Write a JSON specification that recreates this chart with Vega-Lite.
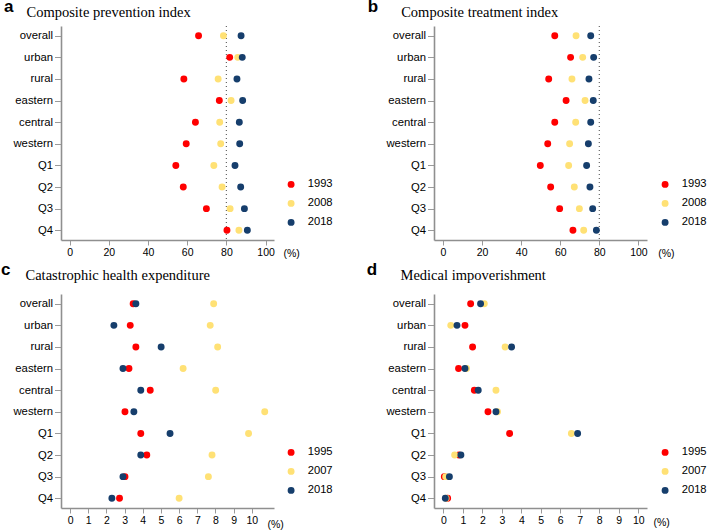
{
  "$schema": "https://vega.github.io/schema/vega-lite/v6.json",
  "background": "white",
  "padding": {"left": 1, "top": -2, "right": 0, "bottom": 0},
  "datasets": {
    "a": [
      {"group": "overall", "year": "1993", "value": 65.8},
      {"group": "urban", "year": "1993", "value": 81.7},
      {"group": "rural", "year": "1993", "value": 58.3},
      {"group": "eastern", "year": "1993", "value": 76.4},
      {"group": "central", "year": "1993", "value": 64.2},
      {"group": "western", "year": "1993", "value": 59.5},
      {"group": "Q1", "year": "1993", "value": 54.2},
      {"group": "Q2", "year": "1993", "value": 58.0},
      {"group": "Q3", "year": "1993", "value": 69.8},
      {"group": "Q4", "year": "1993", "value": 80.3},
      {"group": "overall", "year": "2008", "value": 78.5},
      {"group": "urban", "year": "2008", "value": 85.8},
      {"group": "rural", "year": "2008", "value": 75.8},
      {"group": "eastern", "year": "2008", "value": 82.4},
      {"group": "central", "year": "2008", "value": 76.6},
      {"group": "western", "year": "2008", "value": 77.1},
      {"group": "Q1", "year": "2008", "value": 73.6},
      {"group": "Q2", "year": "2008", "value": 77.8},
      {"group": "Q3", "year": "2008", "value": 81.9},
      {"group": "Q4", "year": "2008", "value": 86.4},
      {"group": "overall", "year": "2018", "value": 87.5},
      {"group": "urban", "year": "2018", "value": 88.1},
      {"group": "rural", "year": "2018", "value": 85.4},
      {"group": "eastern", "year": "2018", "value": 88.3},
      {"group": "central", "year": "2018", "value": 86.6},
      {"group": "western", "year": "2018", "value": 86.8},
      {"group": "Q1", "year": "2018", "value": 84.4},
      {"group": "Q2", "year": "2018", "value": 87.3},
      {"group": "Q3", "year": "2018", "value": 89.2},
      {"group": "Q4", "year": "2018", "value": 90.7}
    ],
    "b": [
      {"group": "overall", "year": "1993", "value": 57.2},
      {"group": "urban", "year": "1993", "value": 65.3},
      {"group": "rural", "year": "1993", "value": 54.1},
      {"group": "eastern", "year": "1993", "value": 63.0},
      {"group": "central", "year": "1993", "value": 57.2},
      {"group": "western", "year": "1993", "value": 53.6},
      {"group": "Q1", "year": "1993", "value": 49.8},
      {"group": "Q2", "year": "1993", "value": 55.1},
      {"group": "Q3", "year": "1993", "value": 59.7},
      {"group": "Q4", "year": "1993", "value": 66.5},
      {"group": "overall", "year": "2008", "value": 68.1},
      {"group": "urban", "year": "2008", "value": 71.5},
      {"group": "rural", "year": "2008", "value": 66.0},
      {"group": "eastern", "year": "2008", "value": 72.7},
      {"group": "central", "year": "2008", "value": 67.9},
      {"group": "western", "year": "2008", "value": 64.8},
      {"group": "Q1", "year": "2008", "value": 64.3},
      {"group": "Q2", "year": "2008", "value": 67.2},
      {"group": "Q3", "year": "2008", "value": 69.8},
      {"group": "Q4", "year": "2008", "value": 72.0},
      {"group": "overall", "year": "2018", "value": 75.6},
      {"group": "urban", "year": "2018", "value": 77.1},
      {"group": "rural", "year": "2018", "value": 74.7},
      {"group": "eastern", "year": "2018", "value": 76.9},
      {"group": "central", "year": "2018", "value": 75.6},
      {"group": "western", "year": "2018", "value": 74.4},
      {"group": "Q1", "year": "2018", "value": 73.5},
      {"group": "Q2", "year": "2018", "value": 75.2},
      {"group": "Q3", "year": "2018", "value": 76.6},
      {"group": "Q4", "year": "2018", "value": 78.5}
    ],
    "c": [
      {"group": "overall", "year": "1995", "value": 3.47},
      {"group": "urban", "year": "1995", "value": 3.31},
      {"group": "rural", "year": "1995", "value": 3.62},
      {"group": "eastern", "year": "1995", "value": 3.24},
      {"group": "central", "year": "1995", "value": 4.41},
      {"group": "western", "year": "1995", "value": 3.02},
      {"group": "Q1", "year": "1995", "value": 3.89},
      {"group": "Q2", "year": "1995", "value": 4.22},
      {"group": "Q3", "year": "1995", "value": 3.02},
      {"group": "Q4", "year": "1995", "value": 2.72},
      {"group": "overall", "year": "2007", "value": 7.90},
      {"group": "urban", "year": "2007", "value": 7.71},
      {"group": "rural", "year": "2007", "value": 8.12},
      {"group": "eastern", "year": "2007", "value": 6.22},
      {"group": "central", "year": "2007", "value": 8.01},
      {"group": "western", "year": "2007", "value": 10.71},
      {"group": "Q1", "year": "2007", "value": 9.82},
      {"group": "Q2", "year": "2007", "value": 7.81},
      {"group": "Q3", "year": "2007", "value": 7.61},
      {"group": "Q4", "year": "2007", "value": 6.00},
      {"group": "overall", "year": "2018", "value": 3.62},
      {"group": "urban", "year": "2018", "value": 2.41},
      {"group": "rural", "year": "2018", "value": 5.01},
      {"group": "eastern", "year": "2018", "value": 2.91},
      {"group": "central", "year": "2018", "value": 3.89},
      {"group": "western", "year": "2018", "value": 3.51},
      {"group": "Q1", "year": "2018", "value": 5.50},
      {"group": "Q2", "year": "2018", "value": 3.89},
      {"group": "Q3", "year": "2018", "value": 2.91},
      {"group": "Q4", "year": "2018", "value": 2.30}
    ],
    "d": [
      {"group": "overall", "year": "1995", "value": 1.40},
      {"group": "urban", "year": "1995", "value": 1.11},
      {"group": "rural", "year": "1995", "value": 1.50},
      {"group": "eastern", "year": "1995", "value": 0.78},
      {"group": "central", "year": "1995", "value": 1.59},
      {"group": "western", "year": "1995", "value": 2.29},
      {"group": "Q1", "year": "1995", "value": 3.40},
      {"group": "Q2", "year": "1995", "value": 0.80},
      {"group": "Q3", "year": "1995", "value": 0.05},
      {"group": "Q4", "year": "1995", "value": 0.22},
      {"group": "overall", "year": "2007", "value": 2.10},
      {"group": "urban", "year": "2007", "value": 0.38},
      {"group": "rural", "year": "2007", "value": 3.17},
      {"group": "eastern", "year": "2007", "value": 1.19},
      {"group": "central", "year": "2007", "value": 2.70},
      {"group": "western", "year": "2007", "value": 2.78},
      {"group": "Q1", "year": "2007", "value": 6.57},
      {"group": "Q2", "year": "2007", "value": 0.58},
      {"group": "Q3", "year": "2007", "value": 0.12},
      {"group": "Q4", "year": "2007", "value": 0.14},
      {"group": "overall", "year": "2018", "value": 1.91},
      {"group": "urban", "year": "2018", "value": 0.70},
      {"group": "rural", "year": "2018", "value": 3.50},
      {"group": "eastern", "year": "2018", "value": 1.11},
      {"group": "central", "year": "2018", "value": 1.79},
      {"group": "western", "year": "2018", "value": 2.70},
      {"group": "Q1", "year": "2018", "value": 6.89},
      {"group": "Q2", "year": "2018", "value": 0.90},
      {"group": "Q3", "year": "2018", "value": 0.31},
      {"group": "Q4", "year": "2018", "value": 0.10}
    ]
  },
  "columns": 2,
  "bounds": "flush",
  "spacing": {"row": 54, "column": 160},
  "concat": [
    {
      "width": 213, "height": 214,
      "title": {"text": "a", "dx": -57, "offset": -12},
      "layer": [
        {"data": {"values": [{}]}, "mark": {"type": "rule", "color": "#666", "strokeDash": [1, 3], "strokeWidth": 1.2}, "encoding": {"x": {"datum": 80, "type": "quantitative"}}},
        {"data": {"name": "a"}, "mark": {"type": "circle", "size": 48, "opacity": 1},
          "encoding": {
            "x": {"field": "value", "type": "quantitative", "scale": {"domain": [-4.4, 104.3], "nice": false, "zero": false},
              "axis": {"values": [0, 10, 20, 30, 40, 50, 60, 70, 80, 90, 100], "title": "(%)", "titleX": 222, "titleY": 13}},
            "y": {"field": "group", "type": "nominal", "sort": ["overall", "urban", "rural", "eastern", "central", "western", "Q1", "Q2", "Q3", "Q4"], "scale": {"padding": 0.45}, "axis": {"title": "Composite prevention index", "titleX": -35, "titleY": -10}},
            "color": {"field": "year", "type": "nominal", "scale": {"domain": ["1993", "2008", "2018"], "range": ["#FF0000", "#FFE175", "#163E6C"]}, "legend": {"title": null, "orient": "none", "legendX": 224.5, "legendY": 152.8}}
          }}
      ]
    },
    {
      "width": 213, "height": 214,
      "title": {"text": "b", "dx": -66.3, "offset": -12},
      "layer": [
        {"data": {"values": [{}]}, "mark": {"type": "rule", "color": "#666", "strokeDash": [1, 3], "strokeWidth": 1.2}, "encoding": {"x": {"datum": 80, "type": "quantitative"}}},
        {"data": {"name": "b"}, "mark": {"type": "circle", "size": 48, "opacity": 1},
          "encoding": {
            "x": {"field": "value", "type": "quantitative", "scale": {"domain": [-4.6, 104.4], "nice": false, "zero": false},
              "axis": {"values": [0, 10, 20, 30, 40, 50, 60, 70, 80, 90, 100], "title": "(%)", "titleX": 223.7, "titleY": 13}},
            "y": {"field": "group", "type": "nominal", "sort": ["overall", "urban", "rural", "eastern", "central", "western", "Q1", "Q2", "Q3", "Q4"], "scale": {"padding": 0.45}, "axis": {"title": "Composite treatment index", "titleX": -33.3, "titleY": -10}},
            "color": {"field": "year", "type": "nominal", "scale": {"domain": ["1993", "2008", "2018"], "range": ["#FF0000", "#FFE175", "#163E6C"]}, "legend": {"title": null, "orient": "none", "legendX": 225.5, "legendY": 152.8}}
          }}
      ]
    },
    {
      "width": 213, "height": 214,
      "title": {"text": "c", "dx": -60, "offset": -12},
      "data": {"name": "c"},
      "mark": {"type": "circle", "size": 48, "opacity": 1},
      "encoding": {
        "x": {"field": "value", "type": "quantitative", "scale": {"domain": [-0.5, 11.22], "nice": false, "zero": false},
          "axis": {"values": [0, 1, 2, 3, 4, 5, 6, 7, 8, 9, 10], "title": "(%)", "titleX": 206, "titleY": 16}},
        "y": {"field": "group", "type": "nominal", "sort": ["overall", "urban", "rural", "eastern", "central", "western", "Q1", "Q2", "Q3", "Q4"], "scale": {"padding": 0.45}, "axis": {"title": "Catastrophic health expenditure", "titleX": -36, "titleY": -15}},
        "color": {"field": "year", "type": "nominal", "scale": {"domain": ["1995", "2007", "2018"], "range": ["#FF0000", "#FFE175", "#163E6C"]}, "legend": {"title": null, "orient": "none", "legendX": 224.5, "legendY": 152.8}}
      }
    },
    {
      "width": 213, "height": 214,
      "title": {"text": "d", "dx": -67.3, "offset": -12},
      "data": {"name": "d"},
      "mark": {"type": "circle", "size": 48, "opacity": 1},
      "encoding": {
        "x": {"field": "value", "type": "quantitative", "scale": {"domain": [-0.48, 10.45], "nice": false, "zero": false},
          "axis": {"values": [0, 1, 2, 3, 4, 5, 6, 7, 8, 9, 10], "title": "(%)", "titleX": 219, "titleY": 14}},
        "y": {"field": "group", "type": "nominal", "sort": ["overall", "urban", "rural", "eastern", "central", "western", "Q1", "Q2", "Q3", "Q4"], "scale": {"padding": 0.45}, "axis": {"title": "Medical impoverishment", "titleX": -34, "titleY": -15}},
        "color": {"field": "year", "type": "nominal", "scale": {"domain": ["1995", "2007", "2018"], "range": ["#FF0000", "#FFE175", "#163E6C"]}, "legend": {"title": null, "orient": "none", "legendX": 225.5, "legendY": 152.8}}
      }
    }
  ],
  "resolve": {"scale": {"color": "independent", "x": "independent", "y": "independent"}, "legend": {"color": "independent"}},
  "config": {
    "view": {"stroke": null},
    "axis": {"grid": false, "domainColor": "#8f8f8f", "domainWidth": 1.6, "tickColor": "#9a9a9a", "tickWidth": 1, "labelFont": "Liberation Sans", "labelColor": "#000", "titleFont": "Liberation Sans", "titleFontWeight": "normal", "titleColor": "#000", "labelOverlap": false},
    "axisX": {"tickSize": 5, "labelFontSize": 10.5, "labelPadding": 2.5, "titleFontSize": 10.5, "titleAlign": "left", "titleAnchor": "start", "titleBaseline": "middle", "labelFlush": false},
    "axisY": {"tickSize": 6.5, "labelFontSize": 11.3, "labelPadding": 2, "titleFont": "Liberation Serif", "titleFontSize": 14.5, "titleAngle": 0, "titleAlign": "left", "titleAnchor": "start", "titleBaseline": "alphabetic"},
    "legend": {"labelFont": "Liberation Sans", "labelFontSize": 11.2, "labelColor": "#000", "symbolSize": 48, "symbolType": "circle", "symbolStrokeWidth": 0, "labelOffset": 11, "rowPadding": 7, "padding": 0},
    "title": {"anchor": "start", "frame": "group", "font": "Liberation Sans", "fontWeight": "bold", "fontSize": 17, "color": "#000", "baseline": "alphabetic"}
  }
}
